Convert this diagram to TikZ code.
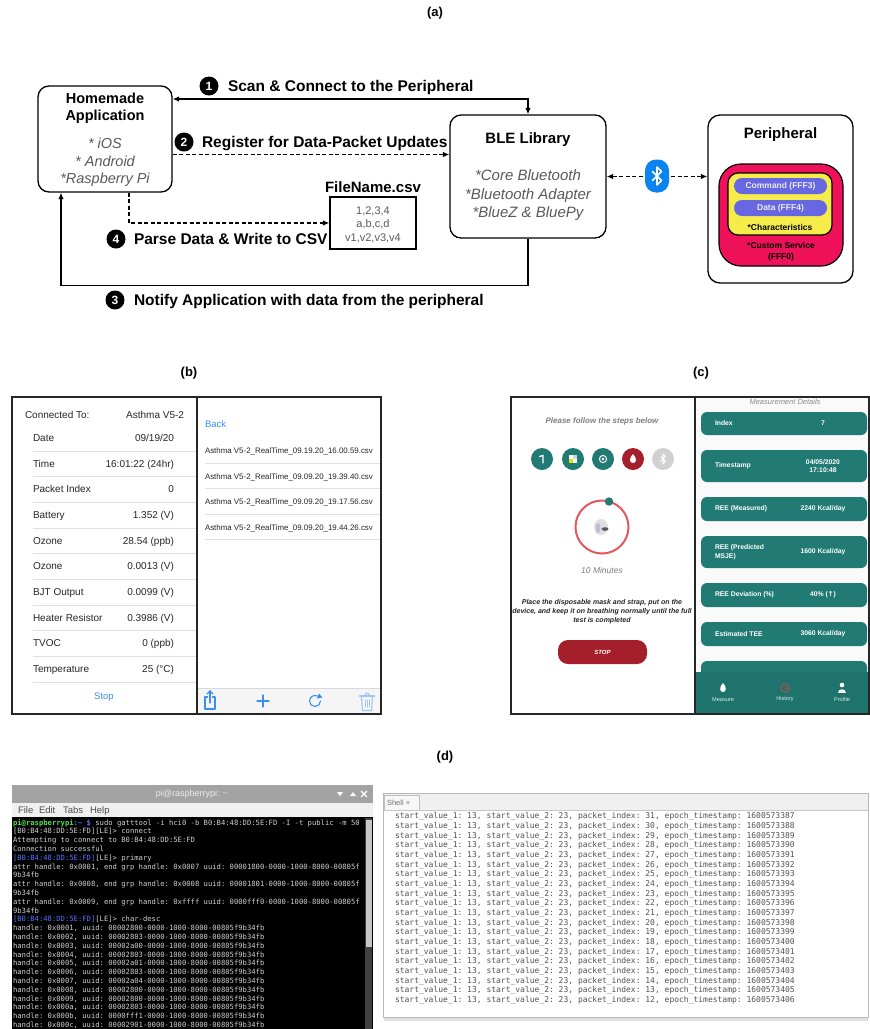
\documentclass[tikz,border=0pt]{standalone}
\usepackage{fontspec}
\setmainfont{Liberation Sans}
\setmonofont{DejaVu Sans Mono}
\newfontfamily\symfont{DejaVu Sans}
\usetikzlibrary{arrows.meta,calc}
\newcommand\fsz[2]{\fontsize{#1}{#2}\selectfont}
\definecolor{tealc}{HTML}{217A73}
\definecolor{tealnav}{HTML}{1E736D}
\definecolor{redc}{HTML}{A51E2B}
\definecolor{ringc}{HTML}{E1585D}
\definecolor{linkc}{HTML}{3B8FEF}
\definecolor{btblue}{HTML}{0B84F0}
\definecolor{svcred}{HTML}{EF115A}
\definecolor{chryel}{HTML}{F5EC4C}
\definecolor{pillc}{HTML}{6767E4}
\definecolor{grayt}{HTML}{5A5A5A}
\definecolor{termfg}{HTML}{D0D0D0}
\definecolor{termgreen}{HTML}{4FE34F}
\definecolor{termblue}{HTML}{5573FF}
\definecolor{sepc}{HTML}{E2E2E2}
\tikzset{
  txt/.style={inner sep=0pt, outer sep=0pt},
  lab/.style={txt, font=\bfseries\fsz{13}{15}},
  box/.style={draw, line width=1.3pt, rounded corners=11pt, fill=white},
  title/.style={txt, align=center, font=\bfseries\fsz{14.5}{17}},
  ital/.style={txt, align=center, text=grayt, font=\itshape\fsz{14.5}{17.5}},
  conn/.style={line width=1.2pt},
  dconn/.style={line width=1.2pt, dash pattern=on 4pt off 2.5pt},
  num/.style={circle, fill=black, text=white, inner sep=0pt, minimum size=19pt, font=\bfseries\fsz{12}{12}},
  steplab/.style={txt, anchor=base west, font=\bfseries\fsz{15.5}{18}},
  pill/.style={fill=pillc, rounded corners=8pt, minimum width=93pt, minimum height=16pt, inner sep=0pt, text=white!92!black, font=\bfseries\fsz{8.5}{10}},
  btxt/.style={txt, font=\fsz{10}{12}, text=black!85},
  ftxt/.style={txt, anchor=base west, font=\fsz{7.9}{10}, text=black!85},
  icon/.style={draw=linkc, line width=1.1pt, line cap=round, line join=round},
  frame/.style={draw=black!85, line width=1.5pt},
  card/.style={fill=tealc, rounded corners=6pt},
  ctxt/.style={txt, text=white, font=\bfseries\fsz{6.8}{8.5}},
  navtxt/.style={txt, text=white!85!tealc, font=\fsz{5.6}{7}},
  term/.style={txt, anchor=base west, text=termfg, font=\ttfamily\fsz{7.2}{8.9}},
  shell/.style={txt, anchor=base west, text=black!68, font=\ttfamily\fsz{8}{9.7}},
}
\begin{document}
\begin{tikzpicture}[x=1pt,y=-1pt,>={Latex[length=6.5pt,width=5.5pt]}]
\useasboundingbox (0,0) rectangle (870,1029);
\fill[white] (0,0) rectangle (870,1029);

% ---------------- panel labels ----------------
\node[lab] (la) at (435,13) {(a)};
\node[lab] (lb) at (189,373) {(b)};
\node[lab] (lc) at (701,373) {(c)};
\node[lab] (ld) at (445,757) {(d)};

% ---------------- (a) BLE data flow ----------------
\node[box, minimum width=134pt, minimum height=106pt] (app) at (105,139) {};
\node[title] (appT) at (105,108.5) {Homemade\\Application};
\node[ital] (appL) at (105,162.5) {* iOS\\* Android\\*Raspberry Pi};

\node[box, minimum width=156pt, minimum height=123pt] (ble) at (528,176.5) {};
\node[title, font=\bfseries\fsz{15}{18}] (bleT) at (528,140) {BLE Library};
\node[ital, font=\itshape\fsz{15}{18.5}] (bleL) at (528,195.5) {*Core Bluetooth\\*Bluetooth Adapter\\*BlueZ \& BluePy};

\node[draw, line width=1.3pt, minimum width=86pt, minimum height=52pt, inner sep=0pt] (csv) at (373,223) {};
\node[txt, font=\bfseries\fsz{15}{18}] (csvT) at (373,187) {FileName.csv};
\node[txt, align=center, text=grayt, font=\fsz{11}{13.5}] (csvL) at (373,224.5) {1,2,3,4\\a,b,c,d\\v1,v2,v3,v4};

\node[box, minimum width=145pt, minimum height=168pt, rounded corners=12pt] (per) at (780.5,199) {};
\node[txt, font=\bfseries\fsz{15}{18}] (perT) at (780.5,135) {Peripheral};
\node[draw, line width=1.2pt, fill=svcred, rounded corners=22pt, minimum width=124pt, minimum height=102pt] (svc) at (781,215) {};
\node[txt, align=center, font=\bfseries\fsz{8.5}{11}] (svcT) at (781,251.5) {*Custom Service\\(FFF0)};
\node[draw, line width=1.2pt, fill=chryel, rounded corners=10pt, minimum width=104pt, minimum height=62pt] (chr) at (780,204) {};
\node[txt, font=\bfseries\fsz{8.5}{10}] (chrT) at (780,227) {*Characteristics};
\node[pill] (cmd) at (780.5,186) {Command (FFF3)};
\node[pill] (dat) at (780.5,208) {Data (FFF4)};

% connectors
\draw[conn,<->] ([yshift=40pt]app.east) -| (ble.north);
\draw[dconn,->] ([yshift=-15.5pt]app.east) -- ([yshift=22pt]ble.west);
\draw[conn,->] (ble.south) -- ++(0,47) -| ([xshift=-44pt]app.south);
\draw[dconn,->] ([xshift=24pt]app.south) |- (csv.west);
\draw[dconn,<->] (ble.east) -- (ble.east -| per.west);

% bluetooth badge
\node[fill=btblue, rounded corners=11pt, minimum width=24pt, minimum height=33pt, inner sep=0pt] (bt) at (657,176) {};
\draw[white, line width=1.6pt, line join=round, line cap=round]
  ($(bt)+(-4.5,4.5)$) -- ($(bt)+(4.5,-4.5)$) -- ($(bt)+(0,-9)$) -- ($(bt)+(0,9)$) -- ($(bt)+(4.5,4.5)$) -- ($(bt)+(-4.5,-4.5)$);

% step numbers and labels
\node[num] (n1) at (209,86) {1};
\node[steplab] (t1) at (228,91.5) {Scan \& Connect to the Peripheral};
\node[num] (n2) at (184,142) {2};
\node[steplab] (t2) at (202,147.5) {Register for Data-Packet Updates};
\node[num] (n4) at (116,239) {4};
\node[steplab] (t4) at (134,244.5) {Parse Data \& Write to CSV};
\node[num] (n3) at (115,300) {3};
\node[steplab] (t3) at (134,305.5) {Notify Application with data from the peripheral};

% ---------------- (b) iOS app screens ----------------
\node[txt, anchor=base west, font=\fsz{10}{12}, text=black!85] (bcon) at (25,418.6) {Connected To:};
\node[txt, anchor=base east, font=\fsz{10}{12}, text=black!85] (bdev) at (184,418.6) {Asthma V5-2};
\foreach \lab/\val [count=\rw] in {Date/{09/19/20}, Time/16:01:22 (24hr), Packet Index/0, Battery/1.352 (V), Ozone/28.54 (ppb), Ozone/0.0013 (V), BJT Output/0.0099 (V), Heater Resistor/0.3986 (V), TVOC/0 (ppb), Temperature/25 (°C)}
{
  \pgfmathsetmacro\yy{438+(\rw-1)*25.67}
  \node[btxt, anchor=base west] (bl\rw) at (33,\yy+3.6) {\lab};
  \node[btxt, anchor=base east] (bv\rw) at (174,\yy+3.6) {\val};
  \draw[sepc, line width=0.6pt] (33,\yy+12.8) -- (197,\yy+12.8);
}
\node[txt, text=linkc, font=\fsz{9.5}{11}] (bstop) at (104,697) {Stop};

\node[txt, anchor=base west, text=linkc, font=\fsz{9.5}{11}] (bback) at (205,427.4) {Back};
\foreach \f [count=\rw] in {09.19.20\_16.00.59, 09.09.20\_19.39.40, 09.09.20\_19.17.56, 09.09.20\_19.44.26}
{
  \pgfmathsetmacro\yy{451+(\rw-1)*25.4}
  \node[ftxt] (bf\rw) at (205,\yy+2.8) {Asthma V5-2\_RealTime\_\f.csv};
  \draw[sepc, line width=0.6pt] (205,\yy+12) -- (381,\yy+12);
}
\fill[black!4] (197,688) rectangle (381,714);
\draw[black!15, line width=0.5pt] (197,688) -- (381,688);
% toolbar icons
\draw[icon] (207.5,697) -- (205,697) -- (205,709) -- (215,709) -- (215,697) -- (212.5,697);
\draw[icon] (210,703) -- (210,691);
\draw[icon] (207,694) -- (210,691) -- (213,694);
\draw[icon] (257,701) -- (269,701) (263,695) -- (263,707);
\draw[icon] (320.5,701) arc[start angle=0, end angle=290, radius=5.5];
\fill[linkc] (319,693.5) -- (322.5,697.5) -- (316.5,698.5) -- cycle;
\draw[icon, draw=linkc!50] (361.5,697) -- (362.5,710.5) -- (371.5,710.5) -- (372.5,697);
\draw[icon, draw=linkc!50] (359.5,696) -- (374.5,696);
\draw[icon, draw=linkc!50] (365,695.5) -- (365.5,693.5) -- (368.5,693.5) -- (369,695.5);
\draw[icon, draw=linkc!50, line width=0.7pt] (365,700) -- (365,707) (367,700) -- (367,707) (369,700) -- (369,707);

\draw[frame] (12,397) rectangle (381,714);
\draw[frame] (197,397) -- (197,714);

% ---------------- (c) Android app screens ----------------
\fill[black!2] (695,397) rectangle (869,714);
\node[txt, text=black!50, font=\bfseries\itshape\fsz{8}{10}] (cplease) at (602,421) {Please follow the steps below};
\node[circle, fill=tealc, minimum size=22pt, inner sep=0pt] (s1) at (542,459) {};
\node[circle, fill=tealc, minimum size=22pt, inner sep=0pt] (s2) at (573,459) {};
\node[circle, fill=tealc, minimum size=22pt, inner sep=0pt] (s3) at (603,459) {};
\node[circle, fill=redc, minimum size=22pt, inner sep=0pt] (s4) at (633,459) {};
\node[circle, fill=black!18, minimum size=22pt, inner sep=0pt] (s5) at (663,459) {};
\draw[white, line width=1.3pt, line cap=round] ($(s1)+(-2.5,-2.5)$) -- ($(s1)+(1,-3.5)$) -- ($(s1)+(1,4)$);
\fill[white] ($(s2)+(-4,-4)$) rectangle ($(s2)+(0,0)$);
\fill[white] ($(s2)+(0,0)$) rectangle ($(s2)+(4,4)$);
\fill[yellow!85!green] ($(s2)+(-4,0)$) rectangle ($(s2)+(0,4)$);
\fill[white!75!tealc] ($(s2)+(0,-4)$) rectangle ($(s2)+(4,0)$);
\draw[white, line width=1pt] (s3) circle[radius=3.6pt];
\fill[white] (s3) circle[radius=1.3pt];
\fill[white] ($(s4)+(0,-5)$) .. controls ($(s4)+(4,-1)$) and ($(s4)+(4,4)$) .. ($(s4)+(0,4)$) .. controls ($(s4)+(-4,4)$) and ($(s4)+(-4,-1)$) .. ($(s4)+(0,-5)$);
\draw[white, line width=1pt, line join=round]
  ($(s5)+(-2.5,2.5)$) -- ($(s5)+(2.5,-2.5)$) -- ($(s5)+(0,-5)$) -- ($(s5)+(0,5)$) -- ($(s5)+(2.5,2.5)$) -- ($(s5)+(-2.5,-2.5)$);

\node[circle, draw=ringc, line width=2pt, minimum size=53pt, inner sep=0pt] (ring) at (602,527) {};
\fill[tealc] ($(ring)+(7,-25.5)$) circle[radius=4.2pt];
\fill[black!12] ($(ring)+(-1,0)$) ellipse[x radius=7pt, y radius=8pt];
\fill[blue!25!black!25] ($(ring)+(-4,1)$) ellipse[x radius=2.5pt, y radius=5pt];
\fill[black!65] ($(ring)+(3,2)$) ellipse[x radius=3.5pt, y radius=1.8pt];
\node[txt, text=black!50, font=\itshape\fsz{8.5}{10}] (cmin) at (602,570) {10 Minutes};
\begin{scope}
  \clip (511,397) rectangle (695,714);
  \node[txt, align=center, text=black!85, font=\bfseries\itshape\fsz{7}{9}] (cpara) at (602,612) {Place the disposable mask and strap, put on the\\device, and keep it on breathing normally until the full\\test is completed};
\end{scope}
\node[fill=redc, rounded corners=10pt, minimum width=89pt, minimum height=24pt, inner sep=0pt, text=white, font=\bfseries\itshape\fsz{6}{7}] (cstop) at (602.5,652) {STOP};

\node[txt, text=black!45, font=\itshape\fsz{7.5}{9}] (cmdet) at (785,402) {Measurement Details};
\fill[card] (701,412) rectangle (867,435);
\node[ctxt, anchor=west] (k1) at (715,423.5) {Index};
\node[ctxt] (v1) at (823,423.5) {7};
\fill[card] (701,450) rectangle (867,482);
\node[ctxt, anchor=west] (k2) at (715,466) {Timestamp};
\node[ctxt, align=center] (v2) at (823,466) {04/05/2020\\17:10:48};
\fill[card] (701,497) rectangle (867,521);
\node[ctxt, anchor=west] (k3) at (715,509) {REE (Measured)};
\node[ctxt] (v3) at (823,509) {2240 Kcal/day};
\fill[card] (701,536) rectangle (867,568);
\node[ctxt, anchor=west, align=left] (k4) at (715,552) {REE (Predicted\\MSJE)};
\node[ctxt] (v4) at (823,552) {1600 Kcal/day};
\fill[card] (701,583) rectangle (867,607);
\node[ctxt, anchor=west] (k5) at (715,595) {REE Deviation (\%)};
\node[ctxt] (v5) at (823,595) {40\% ({\symfont ↑})};
\fill[card] (701,622) rectangle (867,646);
\node[ctxt, anchor=west] (k6) at (715,634) {Estimated TEE};
\node[ctxt] (v6) at (823,634) {3060 Kcal/day};
\fill[card] (701,661) rectangle (867,690);
% bottom navigation
\fill[tealnav] (695,672) rectangle (869,714);
\fill[white] (723,683) .. controls (727,687) and (726.5,692) .. (723,692) .. controls (719.5,692) and (719,687) .. (723,683);
\draw[ringc!85!black, line width=0.9pt] (785,688) circle[radius=4.2pt];
\draw[ringc!85!black, line width=0.8pt] (785,685.5) -- (785,688) -- (787,689.5);
\fill[white] (842,685) circle[radius=2.3pt];
\fill[white] (838,692.5) .. controls (838,687.5) and (846,687.5) .. (846,692.5) -- cycle;
\node[navtxt] (m1) at (723,699.5) {Measure};
\node[navtxt] (m2) at (785,699.5) {History};
\node[navtxt] (m3) at (842,699.5) {Profile};

\draw[frame] (511,397) rectangle (869,714);
\draw[frame] (695,397) -- (695,714);

% ---------------- (d) terminal session ----------------
\fill[black!36] (12,785) rectangle (373,803);
\node[txt, text=white!92!black, font=\fsz{9}{11}] (ttl) at (192,794) {pi@raspberrypi: \textasciitilde};
\fill[white] (337,792) -- (343,792) -- (340,796) -- cycle;
\fill[white] (350,796) -- (356,796) -- (353,792) -- cycle;
\draw[white, line width=1.2pt] (361,791) -- (367,797) (361,797) -- (367,791);
\fill[black!6] (12,803) rectangle (373,817);
\node[txt, anchor=base west, text=black!70, font=\fsz{9.5}{11}] (mf) at (18,813.4) {File};
\node[txt, anchor=base west, text=black!70, font=\fsz{9.5}{11}] (me) at (39,813.4) {Edit};
\node[txt, anchor=base west, text=black!70, font=\fsz{9.5}{11}] (mt) at (63,813.4) {Tabs};
\node[txt, anchor=base west, text=black!70, font=\fsz{9.5}{11}] (mh) at (90,813.4) {Help};
\fill[black] (12,817) rectangle (373,1029);
\fill[black!75] (365,818) rectangle (372,1029);
\fill[black!22] (365.5,820) rectangle (371.5,947);
\begin{scope}
  \clip (12,817) rectangle (364,1029);
  \foreach \s [count=\rw] in {
    {\textcolor{termgreen}{\bfseries pi@raspberrypi}\textcolor{termblue}{\bfseries :\textasciitilde{} \$} sudo gatttool -i hci0 -b B0:B4:48:DD:5E:FD -I -t public -m 50},
    {[B0:B4:48:DD:5E:FD][LE]> connect},
    {Attempting to connect to B0:B4:48:DD:5E:FD},
    {Connection successful},
    {\textcolor{termblue}{[B0:B4:48:DD:5E:FD]}[LE]> primary},
    {attr handle: 0x0001, end grp handle: 0x0007 uuid: 00001800-0000-1000-8000-00805f},
    {9b34fb},
    {attr handle: 0x0008, end grp handle: 0x0008 uuid: 00001801-0000-1000-8000-00805f},
    {9b34fb},
    {attr handle: 0x0009, end grp handle: 0xffff uuid: 0000fff0-0000-1000-8000-00805f},
    {9b34fb},
    {\textcolor{termblue}{[B0:B4:48:DD:5E:FD]}[LE]> char-desc}}
  {
    \node[term] (tl\rw) at (13,{822.5+(\rw-1)*8.8+2.6}) {\s};
  }
  \foreach \h/\u [count=\rw] in {1/2800, 2/2803, 3/2a00, 4/2803, 5/2a01, 6/2803, 7/2a04, 8/2800, 9/2800, a/2803, b/fff1, c/2901}
  {
    \node[term] (th\rw) at (13,{822.5+(\rw+11)*8.8+2.6}) {handle: 0x000\h, uuid: 0000\u-0000-1000-8000-00805f9b34fb};
  }
\end{scope}

% ---------------- (d) Python shell output ----------------
\fill[black!12] (384,1017) rectangle (868,1021);
\fill[white] (383,793) rectangle (868,1017);
\fill[black!6] (383,793) rectangle (868,810);
\draw[black!22, line width=0.6pt] (383,810) -- (868,810);
\draw[black!28, line width=0.8pt] (383,793) rectangle (868,1017);
\draw[black!25, fill=black!3, line width=0.6pt] (384,810) -- (384,795) -- (419,795) -- (419,810);
\node[txt, anchor=base west, text=black!55, font=\fsz{7.5}{9}] (tab) at (387,805) {Shell \texttimes};
\foreach \i in {1,...,20}
{
  \pgfmathtruncatemacro\pk{32-\i}
  \pgfmathtruncatemacro\ts{3386+\i}
  \node[shell] (sh\i) at (395,{816+(\i-1)*9.67+2.8}) {start\_value\_1: 13, start\_value\_2: 23, packet\_index: \pk, epoch\_timestamp: 160057\ts};
}
\end{tikzpicture}
\end{document}
